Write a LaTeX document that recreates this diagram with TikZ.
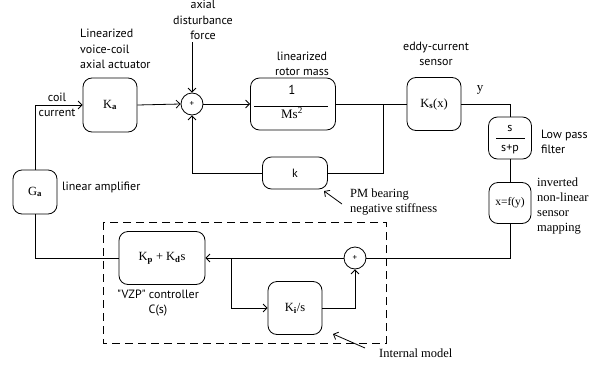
\documentclass[tikz,border=0pt]{standalone}
\usepackage{fontspec}
\setmainfont{Liberation Serif}
\newfontfamily\lblsans{PT Sans}
\usetikzlibrary{arrows.meta}

\tikzset{
  blk/.style={draw, rounded corners=9pt, line width=0.8pt, inner sep=0pt,
              font=\fontsize{12.5}{14}\selectfont},
  sumnode/.style={draw, circle, line width=0.8pt, minimum size=22pt, inner sep=0pt,
                  font=\lblsans\fontsize{9}{9}\selectfont},
  wire/.style={line width=0.8pt},
  arr/.style={wire, -{Straight Barb[length=4pt,width=8pt,line width=0.8pt]}},
  sanslbl/.style={font=\lblsans\fontsize{12}{15.5}\selectfont, inner sep=0pt},
  seriflbl/.style={font=\fontsize{12.5}{15}\selectfont, inner sep=0pt},
}

\begin{document}
\begin{tikzpicture}[x=1pt,y=-1pt]
\useasboundingbox[fill=white] (0,0) rectangle (604,364);

% blocks
\node[blk, minimum width=54pt, minimum height=54pt] (Ka) at (110,105) {K\textsubscript{\textbf{a}}};
\node[sumnode] (s1) at (192,104) {+};
\node[blk, minimum width=85pt, minimum height=52pt] (M) at (293,104) {};
\node[blk, minimum width=54pt, minimum height=53pt] (Ks) at (434,104) {K\textsubscript{\textbf{s}}(x)};
\node[blk, minimum width=43pt, minimum height=42pt] (F) at (510,138) {};
\node[blk, minimum width=42pt, minimum height=41pt, font=\fontsize{11.5}{13}\selectfont] (Fy) at (510,203) {x=f(y)};
\node[blk, minimum width=65pt, minimum height=32pt, font=\lblsans\fontsize{12}{13}\selectfont] (k) at (295,173) {k};
\node[blk, minimum width=44pt, minimum height=44pt] (Ga) at (35,192) {G\textsubscript{\textbf{a}}};
\node[blk, minimum width=86pt, minimum height=53pt] (Kp) at (162,258) {K\textsubscript{\textbf{p}} + K\textsubscript{\textbf{d}}s};
\node[blk, minimum width=54pt, minimum height=53pt] (Ki) at (295,308) {K\textsubscript{\textbf{i}}/s};
\node[sumnode] (s2) at (355,258) {+};

% fraction 1/Ms^2
\node[font=\lblsans\fontsize{13}{13}\selectfont] (one) at (292,90) {1};
\node[font=\fontsize{13}{13}\selectfont] (ms) at (292,113) {Ms\textsuperscript{2}};
\draw[wire] ([xshift=4pt,yshift=-2pt]M.west) -- ([xshift=-8pt,yshift=-2pt]M.east);

% fraction s/(s+p)
\node[font=\lblsans\fontsize{12}{12}\selectfont] (fs) at (510,128) {s};
\node[font=\lblsans\fontsize{12}{12}\selectfont] (fsp) at (510,149) {s+p};
\draw[wire] ([xshift=8pt]F.west) -- ([xshift=-7pt]F.east);

% internal model frame
\draw[wire, dash pattern=on 8pt off 5pt] (103,222) rectangle (386,343);

% helper points
\coordinate (dist) at (192,42);
\coordinate (jn) at (383,104);
\coordinate (br) at (231,258);

% signal paths
\draw[arr] (Ga.north) |- (Ka.west);
\draw[arr] (Ka.east) -- (s1.west);
\draw[arr] (dist) -- (s1.north);
\draw[arr] (s1.east) -- (M.west);
\draw[wire] (M.east) -- (Ks.west);
\draw[wire] (Ks.east) -| (F.north);
\draw[wire] (F.south) -- (Fy.north);
\draw[wire] (Fy.south) |- (s2.east);
\draw[arr] (s2.west) -- (Kp.east);
\draw[arr] (br) |- (Ki.west);
\draw[arr] (Ki.east) -| (s2.south);
\draw[wire] (Kp.west) -| (Ga.south);
\draw[wire] (jn) |- (k.east);
\draw[arr] (k.west) -| (s1.south);

% pointer arrows
\coordinate (pmtail) at (342,204);
\coordinate (pmtip) at (324,191);
\draw[arr] (pmtail) -- (pmtip);
\coordinate (imtail) at (365,348);
\coordinate (imtip) at (333,334);
\draw[arr] (imtail) -- (imtip);

% labels
\node[sanslbl, align=left, anchor=north west] (lA) at (80,29) {Linearized\\voice-coil\\axial actuator};
\node[sanslbl, align=center] (lD) at (203,20) {axial\\disturbance\\force};
\node[sanslbl, align=center] (lM) at (302,64) {linearized\\rotor mass};
\node[sanslbl, align=center] (lS) at (436,54) {eddy-current\\sensor};
\node[seriflbl, font=\fontsize{13}{14}\selectfont] (ly) at (480,90) {y};
\node[sanslbl, align=left, anchor=west] (lF) at (541,142) {Low pass\\filter};
\node[sanslbl, align=center] (lC) at (57,105) {coil\\current};
\node[sanslbl, anchor=west] (lG) at (62,187) {linear amplifier};
\node[seriflbl, align=left, anchor=west] (lPM) at (350,202) {PM bearing\\negative stiffness};
\node[seriflbl, align=left, anchor=west] (lI) at (537,206) {inverted\\non-linear\\sensor\\mapping};
\node[sanslbl, align=center] (lV) at (158,303) {"VZP" controller\\C(s)};
\node[seriflbl, anchor=west] (lIM) at (379,353) {Internal model};
\end{tikzpicture}
\end{document}
